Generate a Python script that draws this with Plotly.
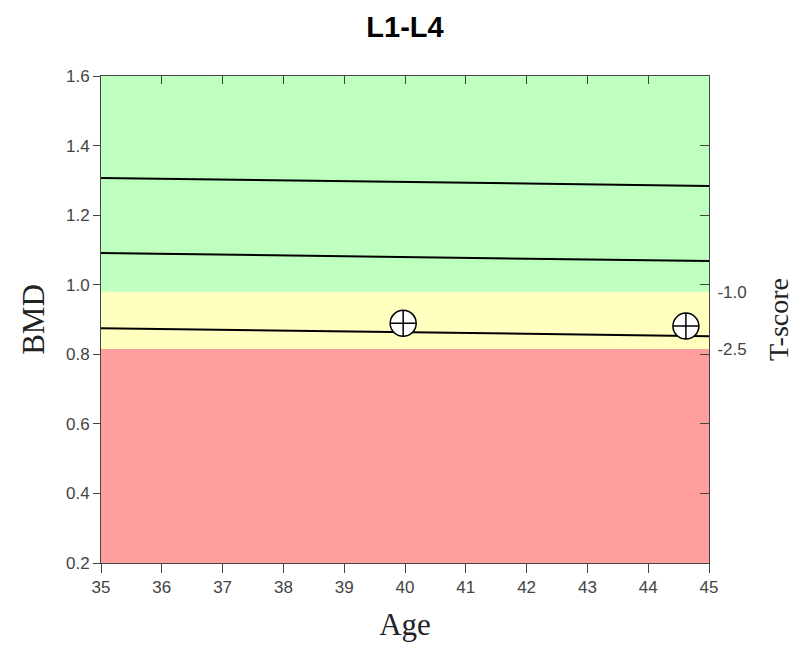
import plotly.graph_objects as go

# ---- data ----
ref_age = [35, 45]
ref_upper = [1.307, 1.284]
ref_mean = [1.091, 1.068]
ref_lower = [0.875, 0.852]

pt_age = [39.97, 44.62]
pt_bmd = [0.889, 0.881]

zone_bounds = [0.2, 0.815, 0.98, 1.6]
zone_colors = ["#ff9e9e", "#ffffc0", "#bfffbf"]

x_range = [35, 45]
y_range = [0.2, 1.6]
x_ticks = list(range(35, 46))
y_ticks = [0.2, 0.4, 0.6, 0.8, 1.0, 1.2, 1.4, 1.6]
t_vals = [0.98, 0.815]
t_text = ["-1.0", "-2.5"]

fig = go.Figure()

for lo, hi, c in zip(zone_bounds[:-1], zone_bounds[1:], zone_colors):
    fig.add_shape(type="rect", xref="x", yref="y", x0=x_range[0], x1=x_range[1],
                  y0=lo, y1=hi, fillcolor=c, line_width=0, layer="below")

for ys in (ref_upper, ref_mean, ref_lower):
    fig.add_trace(go.Scatter(x=ref_age, y=ys, mode="lines",
                             line=dict(color="black", width=2), showlegend=False,
                             hoverinfo="skip"))

fig.add_trace(go.Scatter(x=pt_age, y=pt_bmd, mode="markers",
                         marker=dict(symbol="circle-cross", size=26, color="white",
                                     line=dict(color="black", width=1.5)),
                         showlegend=False, cliponaxis=False))

fig.add_trace(go.Scatter(x=[None], y=[None], xaxis="x2", yaxis="y2", showlegend=False))
fig.add_trace(go.Scatter(x=[None], y=[None], xaxis="x", yaxis="y3", showlegend=False))

tickfont = dict(family="Liberation Sans", size=17, color="#444")
serif = "Liberation Serif"

fig.update_layout(
    width=794, height=641,
    margin=dict(l=93, r=93, t=68, b=86),
    paper_bgcolor="white", plot_bgcolor="white",
    title=dict(text="<b>L1-L4</b>", x=0.5, xanchor="center", y=1 - 19 / 641, yanchor="middle",
               font=dict(family="Liberation Sans", size=29, color="black")),
    xaxis=dict(range=x_range, tickvals=x_ticks, ticks="outside", ticklen=9,
               tickcolor="#444", showline=True, linecolor="#444", linewidth=1,
               showgrid=False, zeroline=False, tickfont=tickfont,
               title=dict(text="Age", font=dict(family=serif, size=31, color="#222"), standoff=16)),
    xaxis2=dict(range=x_range, overlaying="x", side="top", tickvals=x_ticks[1:-1],
                ticks="inside", ticklen=8, tickcolor="#444", showticklabels=False,
                showline=True, linecolor="#444", linewidth=1, showgrid=False, zeroline=False),
    yaxis=dict(range=y_range, tickvals=y_ticks, tickformat=".1f", ticks="outside", ticklen=7,
               tickcolor="#444", showline=True, linecolor="#444", linewidth=1,
               showgrid=False, zeroline=False, tickfont=tickfont,
               title=dict(text="BMD", font=dict(family=serif, size=31, color="#222"), standoff=12)),
    yaxis2=dict(range=y_range, overlaying="y", side="right", tickvals=t_vals, ticktext=t_text,
                ticks="outside", ticklen=4, tickcolor="rgba(0,0,0,0)", tickfont=tickfont,
                showline=False, showgrid=False, zeroline=False,
                title=dict(text="T-score", font=dict(family=serif, size=28, color="#222"), standoff=22)),
    yaxis3=dict(range=y_range, overlaying="y", side="right", tickvals=y_ticks[1:-1],
                ticks="inside", ticklen=9, tickcolor="#444", showticklabels=False,
                showline=True, linecolor="#444", linewidth=1, showgrid=False, zeroline=False),
)

fig.write_html("out.html")
